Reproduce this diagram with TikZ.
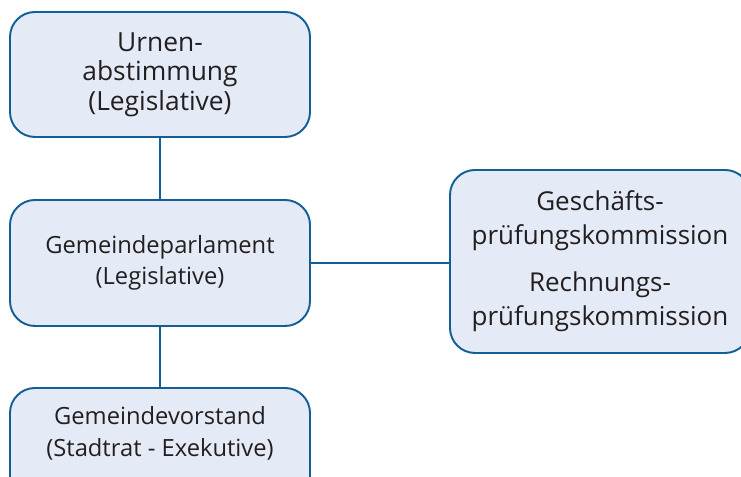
\documentclass[tikz,border=0pt]{standalone}
\usepackage{fontspec}
\setmainfont{Open Sans}
\definecolor{kastenrand}{RGB}{18,94,150}
\definecolor{kastenfill}{RGB}{228,235,246}
\definecolor{schrift}{RGB}{35,31,32}
\begin{document}
\begin{tikzpicture}[
				line join = round,line cap = round,scale=1,inner sep = 1mm,
				kasten/.style={rectangle,rounded corners=0.5cm,draw = kastenrand,fill = kastenfill,line width=1.1pt,
					minimum width=6cm, text=schrift, align=center, font=\fontsize{13.5}{18}\selectfont},
				kastentext/.style={text=schrift, align=center, font=\fontsize{13.5}{18.5}\selectfont},
				linie/.style={draw = kastenrand,line width=1.1pt}]
				\useasboundingbox (0,0) rectangle (14.82,9.54);
				\clip (0,0) rectangle (14.82,9.54);
				\node at (3.2,8.05) (nodeU) [kasten, minimum height=2.5cm, font=\fontsize{15}{16.8}\selectfont] {Urnen-\\abstimmung\\(Legislative)};
				\node at (3.2,4.28) (nodeG) [kasten, minimum height=2.52cm] {Gemeindeparlament\\(Legislative)};
				\node at (3.2,0.53) (nodeV) [kasten, minimum height=2.5cm] {};
				\node at (3.2,0.87) (nodeVt) [kastentext] {Gemeindevorstand\\(Stadtrat - Exekutive)};
				\node at (12.0,4.31) (nodeK) [kasten, minimum height=3.66cm, font=\fontsize{14.8}{19.3}\selectfont] {Geschäfts-\\prüfungskommission\\[0.26cm]Rechnungs-\\prüfungskommission};
				\draw[linie] (nodeU) -- (nodeG);
				\draw[linie] (nodeG) -- (nodeV);
				\draw[linie] (nodeG.east) -- (nodeG.east -| nodeK.west);
			\end{tikzpicture}
\end{document}
